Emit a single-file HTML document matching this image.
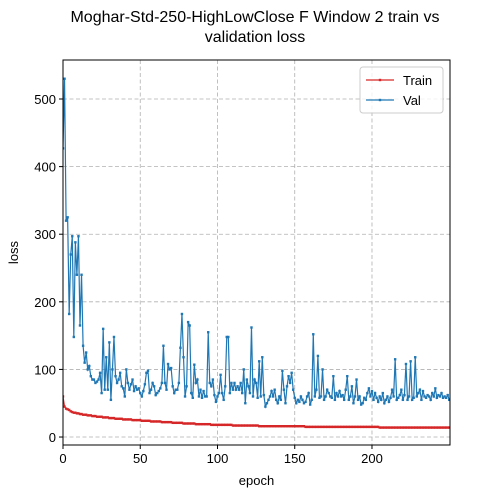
<!DOCTYPE html>
<html><head><meta charset="utf-8"><style>
body{margin:0;background:#fff;}
svg{display:block;font-family:"Liberation Sans","DejaVu Sans",sans-serif;}
</style></head><body>
<svg id="chart" width="500" height="500">
<defs><clipPath id="pc"><rect x="63" y="60" width="387" height="385"/></clipPath></defs>
<text x="255" y="22" text-anchor="middle" font-size="16">Moghar-Std-250-HighLowClose F Window 2 train vs</text>
<text x="255" y="42" text-anchor="middle" font-size="16">validation loss</text>
<g id="grid"></g><g id="series" clip-path="url(#pc)"></g><g id="axes"></g>
</svg>
<script>
const valLoss=[427,530,320,325,182,270,297,148,288,240,297,165,240,135,110,125,100,105,90,85,85,80,82,85,95,65,160,70,118,70,140,55,100,148,90,80,85,95,75,72,60,100,80,70,78,85,68,75,70,72,65,60,68,78,95,98,65,70,80,75,62,65,68,72,80,135,80,70,108,100,102,75,65,70,70,80,132,182,118,60,75,170,165,65,58,107,80,85,60,70,58,68,60,60,155,80,75,85,62,52,60,65,92,65,55,75,148,148,65,80,70,80,70,75,70,80,65,100,50,85,75,65,162,60,85,80,58,112,60,118,62,45,50,55,60,68,60,70,55,50,60,55,98,70,50,75,90,80,95,70,58,50,55,52,60,55,50,52,60,65,48,55,152,60,70,120,58,60,100,55,60,70,65,60,58,90,55,65,60,68,60,62,55,70,90,55,60,75,50,60,85,55,60,48,50,58,55,65,72,60,68,55,65,58,52,60,55,65,50,55,60,52,58,70,60,115,55,58,62,70,55,62,108,55,60,112,55,58,118,60,65,70,55,68,60,58,62,60,55,65,60,72,58,62,60,65,58,60,58,62,55];
const trainLoss=[60,45,42,41,40,38,37,36,36,35,35,34,34,33,33,33,32,32,32,31,31,31,30,30,30,30,29,29,29,29,28,28,28,28,27,27,27,27,27,26,26,26,26,26,26,25,25,25,25,25,25,24,24,24,24,24,24,23,23,23,23,23,23,23,22,22,22,22,22,22,22,21,21,21,21,21,21,21,20,20,20,20,20,20,20,20,19,19,19,19,19,19,19,19,19,19,18,18,18,18,18,18,18,18,18,18,18,18,18,18,17,17,17,17,17,17,17,17,17,17,17,17,17,17,17,17,17,16,16,16,16,16,16,16,16,16,16,16,16,16,16,16,16,16,16,16,16,16,16,16,16,16,16,16,16,16,16,15,15,15,15,15,15,15,15,15,15,15,15,15,15,15,15,15,15,15,15,15,15,15,15,15,15,15,15,15,15,15,15,15,15,15,15,15,15,15,15,15,15,15,15,15,15,15,15,14,14,14,14,14,14,14,14,14,14,14,14,14,14,14,14,14,14,14,14,14,14,14,14,14,14,14,14,14,14,14,14,14,14,14,14,14,14,14,14,14,14,14,14,14,14,14,14];
const xTicks=[0,50,100,150,200];
const yTicks=[0,100,200,300,400,500];
const L=63,R=450,T=60,B=445,xmin=0,xmax=250.5,ymin=-11.8,ymax=557.7;
const xs=v=>L+(v-xmin)/(xmax-xmin)*(R-L);
const ys=v=>B-(v-ymin)/(ymax-ymin)*(B-T);
const NS="http://www.w3.org/2000/svg";
function mk(tag,attrs,parent){const e=document.createElementNS(NS,tag);for(const k in attrs)e.setAttribute(k,attrs[k]);parent.appendChild(e);return e;}
const grid=document.getElementById('grid'),ser=document.getElementById('series'),ax=document.getElementById('axes');
xTicks.forEach(t=>{const x=xs(t);
 const g=mk('line',{x1:x,x2:x,y1:T,y2:B,stroke:'#b0b0b0','stroke-dasharray':'4,2.5','stroke-width':0.8},grid);
 
 
 mk('line',{x1:x,x2:x,y1:B,y2:B+4,stroke:'#000'},ax);
 const l=mk('text',{x:x,y:B+18,'text-anchor':'middle','font-size':13},ax);l.textContent=t;
 
 });
yTicks.forEach(t=>{const y=ys(t);
 const g=mk('line',{x1:L,x2:R,y1:y,y2:y,stroke:'#b0b0b0','stroke-dasharray':'4,2.5','stroke-width':0.8},grid);
 
 
 mk('line',{x1:L-4,x2:L,y1:y,y2:y,stroke:'#000'},ax);
 const l=mk('text',{x:L-7,y:y+5,'text-anchor':'end','font-size':13},ax);l.textContent=t;
 
 });
const frame=mk('rect',{x:L,y:T,width:R-L,height:B-T,fill:'none',stroke:'#000','stroke-width':1},ax);


const xl=mk('text',{x:(L+R)/2,y:485,'text-anchor':'middle','font-size':13},ax);xl.textContent='epoch';


const yl=mk('text',{x:18,y:(T+B)/2,'text-anchor':'middle','font-size':13,transform:`rotate(-90 18 ${(T+B)/2})`},ax);yl.textContent='loss';


function draw(arr,color,name){
 const pts=arr.map((v,i)=>xs(i)+','+ys(v)).join(' ');
 const pl=mk('polyline',{points:pts,fill:'none',stroke:color,'stroke-width':1.2},ser);
 
 
 arr.forEach((v,i)=>{const c=mk('rect',{x:xs(i)-1.2,y:ys(v)-1.2,width:2.4,height:2.4,fill:color},ser);
  
  });
}
draw(trainLoss,'#d62728','train');
draw(valLoss,'#1f77b4','val');
const lg=mk('g',{},ax);


mk('rect',{x:360,y:67,width:83,height:46,rx:3,fill:'#fff','fill-opacity':0.8,stroke:'#ccc'},lg);
[['Train','#d62728',80],['Val','#1f77b4',100]].forEach(([n,c,y])=>{
 mk('line',{x1:366,x2:394,y1:y,y2:y,stroke:c,'stroke-width':1.2},lg);
 mk('rect',{x:378.8,y:y-1.2,width:2.4,height:2.4,fill:c},lg);
 const t=mk('text',{x:403,y:y+5,'font-size':13},lg);t.textContent=n;
 
 });
</script>
</body></html>
